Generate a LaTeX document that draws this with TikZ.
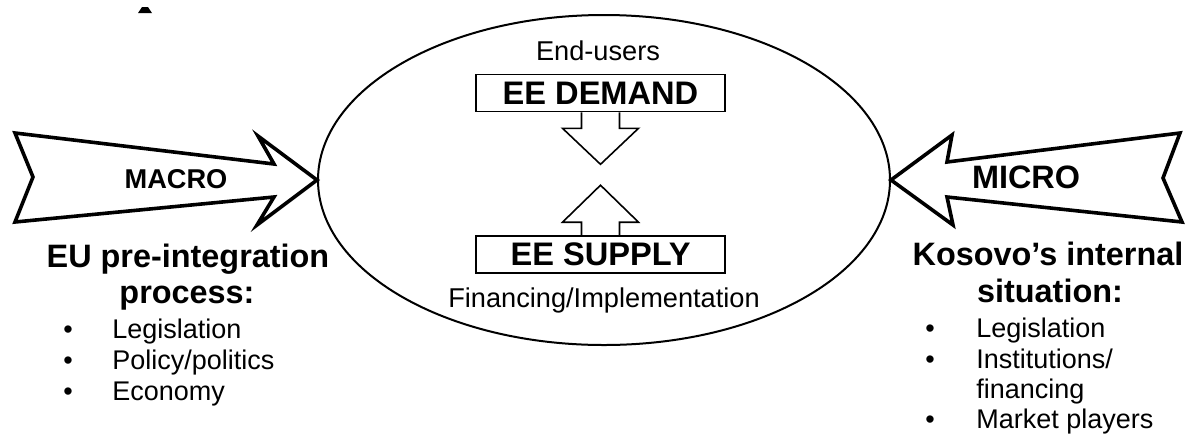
\documentclass[tikz,border=0pt]{standalone}
\usepackage{fontspec}
\setmainfont{Liberation Sans}
\usetikzlibrary{shapes.geometric}

\begin{document}
\begin{tikzpicture}
    [line join=miter, x=0.5pt, y=-0.5pt,
     bigarrow/.style={line width=1.8pt},
     smallarrow/.style={line width=0.8pt},
     eebox/.style={draw, line width=0.8pt, minimum width=124.5pt, minimum height=18.5pt, inner sep=0pt, font=\fontsize{16.3}{18}\selectfont\bfseries},
     side/.style={font=\fontsize{16.2}{18}\selectfont\bfseries, anchor=base},
     item/.style={font=\fontsize{13.5}{15}\selectfont, anchor=base west, inner sep=0pt},
     dot/.style={font=\fontsize{13.5}{15}\selectfont, anchor=base},
     note/.style={font=\fontsize{13.6}{15}\selectfont, anchor=base}]
\useasboundingbox (0,0) rectangle (1189,435);
%stray mark at the top
\fill (138,13) -- (152,13) -- (148,7) -- (142,7) -- cycle;

%the ellipse in the middle
\node (core) [draw, ellipse, line width=1pt, minimum width=286pt, minimum height=165pt, inner sep=0pt] at (604,180) {};

%demand and supply
\node (users) [note] at (598,60) {End-users};
\node (demand) [eebox] at (600.5,93) {EE DEMAND};
\node (supply) [eebox] at (600.5,254.5) {EE SUPPLY};
\node (financing) [note] at (604,307) {Financing/Implementation};

\draw[smallarrow] ([xshift=-9.5pt]demand.south) -- ++(0,16) -- ++(-19,0) -- ++(38,36) -- ++(38,-36) -- ++(-19,0) -- ++(0,-16);
\draw[smallarrow] ([xshift=-9.5pt]supply.north) -- ++(0,-13) -- ++(-19,0) -- ++(38,-37) -- ++(38,37) -- ++(-19,0) -- ++(0,13);

%the two big arrows
\draw[bigarrow] (core.west) -- (258,136) -- (274,164) -- (15,133) -- (33,177) -- (15,222) -- (274,197) -- (257,225) -- cycle;
\draw[bigarrow] (core.east) -- (952,135) -- (947,162) -- (1180,133) -- (1163,178) -- (1182,222) -- (947,197) -- (953,225) -- cycle;
\node (macro) [side, font=\fontsize{13.6}{15}\selectfont\bfseries] at (176,188) {MACRO};
\node (micro) [side] at (1026,188) {MICRO};

%left side
\node (eutitle) [side] at (188,267) {EU pre-integration};
\node (euproc) [side] at (187,303) {process:};
\foreach \i/\y/\txt in {1/338/Legislation, 2/369/{Policy/politics}, 3/400/Economy}{
  \node (eudot\i) [dot] at (68,\y) {•};
  \node (euitem\i) [item] at (112,\y) {\txt};
}

%right side
\node (kstitle) [side] at (1048,265) {Kosovo’s internal};
\node (kssit) [side] at (1050,302) {situation:};
\foreach \i/\y/\txt in {1/337/Legislation, 2/368/{Institutions/}, 4/428/Market players}{
  \node (ksdot\i) [dot] at (930,\y) {•};
  \node (ksitem\i) [item] at (976,\y) {\txt};
}
\node (ksitem3) [item] at (976,398) {financing};
 \end{tikzpicture}
\end{document}
